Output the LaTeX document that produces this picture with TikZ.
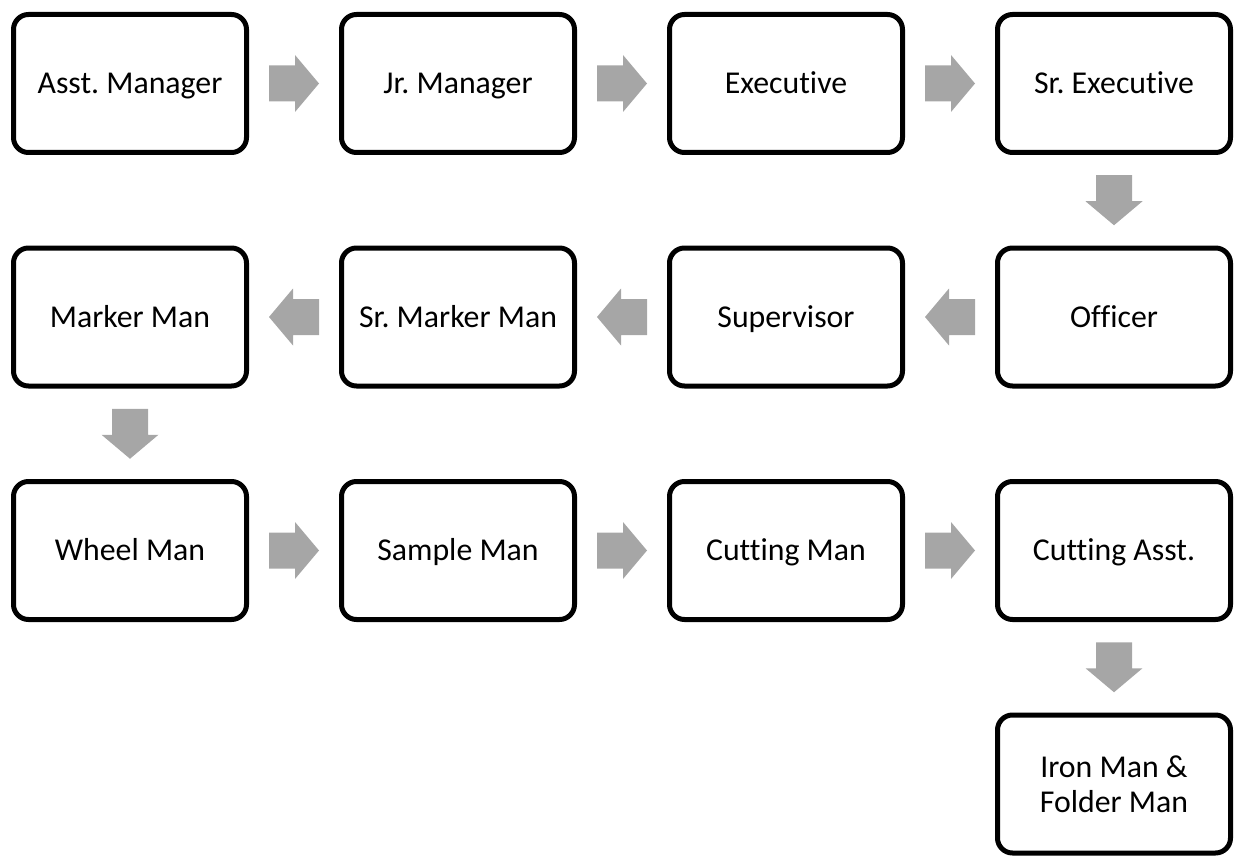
\documentclass[tikz,border=0pt]{standalone}
\usepackage{fontspec}
\setmainfont{Carlito}[Ligatures=NoCommon]
\frenchspacing
\usetikzlibrary{calc}
\definecolor{arrowgray}{HTML}{A6A6A6}
\begin{document}
\begin{tikzpicture}[x=1pt,y=-1pt,
  stage/.style={draw=black, line width=5pt, rounded corners=15pt, fill=white,
    minimum width=233pt, minimum height=138pt, inner sep=0pt, align=center,
    font=\fontsize{31.8}{34.5}\selectfont},
  oneline/.style={stage, text height=27.5pt, text depth=7pt},
  blockarrow/.pic={\fill[arrowgray] (-25,-18) -- (1,-18) -- (1,-28.5) -- (25,0)
    -- (1,28.5) -- (1,18) -- (-25,18) -- cycle;}]
\useasboundingbox (0,0) rectangle (1243,856);

% four columns, four rows
\node[oneline] (a1) at (130,83.5) {Asst. Manager};
\node[oneline] (a2) at (458,83.5) {Jr. Manager};
\node[oneline] (a3) at (786,83.5) {Executive};
\node[oneline] (a4) at (1114,83.5) {Sr. Executive};

\node[oneline] (b4) at (1114,317) {Officer};
\node[oneline] (b3) at (786,317) {Supervisor};
\node[oneline] (b2) at (458,317) {Sr. Marker Man};
\node[oneline] (b1) at (130,317) {Marker Man};

\node[oneline] (c1) at (130,550.5) {Wheel Man};
\node[oneline] (c2) at (458,550.5) {Sample Man};
\node[oneline] (c3) at (786,550.5) {Cutting Man};
\node[oneline] (c4) at (1114,550.5) {Cutting Asst.};

\node[stage] (d4) at (1114,784) {Iron Man \&\\Folder Man};

% block arrows between consecutive stages
\path ($(a1.east)!0.5!(a2.west)$) pic {blockarrow};
\path ($(a2.east)!0.5!(a3.west)$) pic {blockarrow};
\path ($(a3.east)!0.5!(a4.west)$) pic {blockarrow};
\path ($(a4.south)!0.5!(b4.north)$) pic[rotate=-90] {blockarrow};
\path ($(b4.west)!0.5!(b3.east)$) pic[rotate=180] {blockarrow};
\path ($(b3.west)!0.5!(b2.east)$) pic[rotate=180] {blockarrow};
\path ($(b2.west)!0.5!(b1.east)$) pic[rotate=180] {blockarrow};
\path ($(b1.south)!0.5!(c1.north)$) pic[rotate=-90] {blockarrow};
\path ($(c1.east)!0.5!(c2.west)$) pic {blockarrow};
\path ($(c2.east)!0.5!(c3.west)$) pic {blockarrow};
\path ($(c3.east)!0.5!(c4.west)$) pic {blockarrow};
\path ($(c4.south)!0.5!(d4.north)$) pic[rotate=-90] {blockarrow};
\end{tikzpicture}
\end{document}
